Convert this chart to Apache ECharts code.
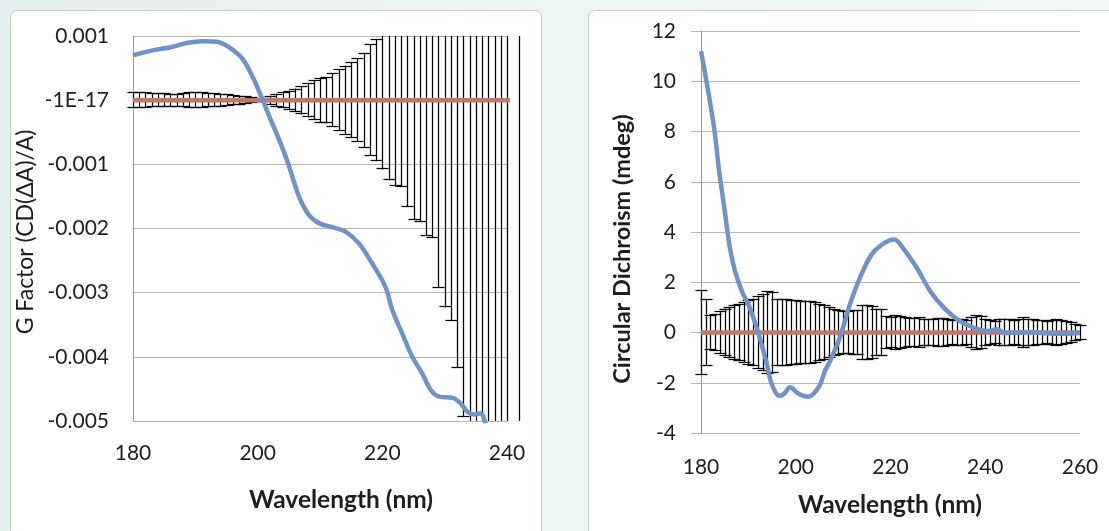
<!DOCTYPE html>
<html>
<head>
<meta charset="utf-8">
<script src="https://cdn.jsdelivr.net/npm/echarts@6/dist/echarts.min.js"></script>
<style>
  html, body { margin: 0; padding: 0; width: 1109px; height: 531px; overflow: hidden; }
  body { background: linear-gradient(90deg, #e4efef 0%, #edf5f5 50%, #f1f7f7 100%); position: relative; }
  .panel { position: absolute; top: 10px; height: 560px; background: #fff;
           border: 1px solid #c6d2bd; border-radius: 7px; box-sizing: border-box; }
  #p1 { left: 10px; width: 532px; }
  #p2 { left: 588px; width: 560px; }
  #chart { position: absolute; left: 0; top: 0; width: 1109px; height: 531px; }
</style>
</head>
<body>
<div class="panel" id="p1"></div>
<div class="panel" id="p2"></div>
<div id="chart"></div>
<script>
// ---- G factor panel (left) ----
const gTickLabels = ['-0.005', '-0.004', '-0.003', '-0.002', '-0.001', '-1E-17', '0.001'];

// sample curve (blue), wavelength / g factor
const gSampleNm = [180, 183.3, 185.9, 188.6, 191.2, 193.4, 195.5, 197.6, 199.2, 200.6, 201.9, 203.5,
  204.9, 206.7, 208.3, 209.9, 212, 214.1, 216.3, 218.4, 220.5, 221.6, 223.2, 224.8, 226.4, 227.8,
  229.1, 231.3, 232.6, 233.7, 234.7, 235.8, 236.5, 237.2];
const gSampleVal = [0.00070, 0.00078, 0.00082, 0.00089, 0.00092, 0.00091, 0.00082, 0.00064, 0.00036,
  0.00005, -0.00026, -0.00063, -0.00099, -0.00152, -0.00180, -0.00192, -0.00198, -0.00205, -0.00224,
  -0.00255, -0.00291, -0.00327, -0.00364, -0.00400, -0.00426, -0.00452, -0.00462, -0.00464, -0.00473,
  -0.00486, -0.00490, -0.00488, -0.00502, -0.00520];

// control (red) with standard deviation bars
const gControlNm = [180, 181, 182, 183, 184, 185, 186, 187, 188, 189, 190, 191, 192, 193, 194, 195, 196,
  197, 198, 199, 200, 201, 202, 203, 204, 205, 206, 207, 208, 209, 210, 211, 212, 213, 214, 215, 216,
  217, 218, 219, 220, 221, 222, 223, 224, 225, 226, 227, 228, 229, 230, 231, 232, 233, 234, 235, 236,
  237, 238, 239, 240, 242];
const gControlVal = [0, 0, 0, 0, 0, 0, 0, 0, 0, 0, 0, 0, 0, 0, 0, 0, 0, 0, 0, 0, 0, 0, 0, 0, 0, 0, 0, 0,
  0, 0, 0, 0, 0, 0, 0, 0, 0, 0, 0, 0, 0, 0, 0, 0, 0, 0, 0, 0, 0, 0, 0, 0, 0, 0, 0, 0, 0, 0, 0, 0, 0, 0];
const gControlErr = [0.00012, 0.00012, 0.00012, 0.00011, 0.00011, 0.00011, 0.00010, 0.00010, 0.00011,
  0.00012, 0.00012, 0.00012, 0.00011, 0.00011, 0.00010, 0.00009, 0.00008, 0.00007, 0.00006, 0.00005,
  0.00003, 0.00003, 0.00007, 0.00010, 0.00012, 0.00015, 0.00018, 0.00022, 0.00027, 0.00031, 0.00035,
  0.00036, 0.00042, 0.00048, 0.00054, 0.00059, 0.00065, 0.00074, 0.00087, 0.00095, 0.00108, 0.00125,
  0.00133, 0.00135, 0.00166, 0.00187, 0.00190, 0.00212, 0.00215, 0.00292, 0.00323, 0.00344, 0.00417,
  0.00493, 0.0054, 0.0058, 0.0061, 0.0065, 0.0068, 0.0072, 0.0076, 0.0083];

// ---- Circular dichroism panel (right) ----
const cdSampleNm = [180, 181.3, 182.8, 183.8, 185, 186.1, 187.2, 188.7, 190.1, 191.6, 193.1, 193.9,
  194.9, 196.6, 197.5, 198.8, 200.5, 202.6, 204.9, 206.2, 207.1, 209.3, 211.6, 213.8, 216, 218.2,
  220.8, 222.6, 225.6, 228.5, 231.5, 234.5, 237.4, 240.4, 242.6, 244.1, 247, 250, 253, 256, 258, 260];
const cdSampleVal = [11.2, 9.85, 8.1, 6.47, 4.85, 3.37, 2.43, 1.61, 1.07, 0.28, -0.68, -1.25,
  -2.04, -2.52, -2.45, -2.18, -2.43, -2.56, -2.16, -1.51, -1.2, -0.2, 1.21, 2.29, 3.1, 3.5,
  3.7, 3.37, 2.56, 1.61, 0.94, 0.47, 0.2, 0.06, 0.13, -0.03, 0.0, 0.02, -0.03, -0.05, -0.04, -0.02];

const cdControlNm = [180, 181, 182, 183, 184, 185, 186, 187, 188, 189, 190, 191, 192, 193, 194, 195,
  196, 197, 198, 199, 200, 201, 202, 203, 204, 205, 206, 207, 208, 209, 210, 211, 212, 213, 214, 215,
  216, 217, 218, 219, 220, 221, 222, 223, 224, 225, 226, 227, 228, 229, 230, 231, 232, 233, 234, 235,
  236, 237, 238, 239, 240, 241, 242, 243, 244, 245, 246, 247, 248, 249, 250, 251, 252, 253, 254, 255,
  256, 257, 258, 259, 260];
const cdControlVal = [0, 0, 0, 0, 0, 0, 0, 0, 0, 0, 0, 0, 0, 0, 0, 0, 0, 0, 0, 0, 0, 0, 0, 0, 0, 0, 0,
  0, 0, 0, 0, 0, 0, 0, 0, 0, 0, 0, 0, 0, 0, 0, 0, 0, 0, 0, 0, 0, 0, 0, 0, 0, 0, 0, 0, 0, 0, 0, 0, 0, 0,
  0, 0, 0, 0, 0, 0, 0, 0, 0, 0, 0, 0, 0, 0, 0, 0, 0, 0, 0, 0];
const cdControlErr = [1.70, 1.34, 0.68, 0.72, 0.85, 0.95, 1.01, 1.08, 1.14, 1.20, 1.30, 1.35, 1.45,
  1.54, 1.65, 1.60, 1.34, 1.34, 1.32, 1.30, 1.28, 1.27, 1.27, 1.25, 1.22, 1.14, 1.10, 1.01, 0.95,
  0.88, 0.85, 0.85, 0.88, 0.90, 1.08, 1.10, 1.05, 0.94, 0.92, 0.65, 0.62, 0.68, 0.64, 0.60, 0.58,
  0.56, 0.60, 0.55, 0.52, 0.55, 0.58, 0.56, 0.52, 0.50, 0.55, 0.52, 0.48, 0.60, 0.68, 0.65, 0.55,
  0.50, 0.45, 0.55, 0.55, 0.52, 0.50, 0.55, 0.60, 0.55, 0.52, 0.50, 0.48, 0.45, 0.50, 0.52, 0.48,
  0.45, 0.40, 0.35, 0.30];

const BLUE = '#6f92c8';
const RED = '#c0786c';
const GRID_COLOR = '#b4b4b4';
const AXIS_COLOR = '#9c9c9c';
const LABEL_COLOR = '#1e1e1e';
const FONT = 'Lato, "Open Sans", sans-serif';

const zip = (xs, ys) => xs.map((x, i) => [x, ys[i]]);
const zip3 = (xs, ys, es) => xs.map((x, i) => [x, ys[i], es[i]]);

// error bar: vertical whisker plus caps, trimmed to the axis range
function errorBars(capHalf, yMin, yMax) {
  return function (params, api) {
    const x = api.value(0), m = api.value(1), e = api.value(2);
    const hi = m + e, lo = m - e;
    const pTop = api.coord([x, Math.min(hi, yMax)]);
    const pBot = api.coord([x, Math.max(lo, yMin)]);
    const px = Math.round(pTop[0]) + 0.5;
    const style = { stroke: '#000', lineWidth: 1.25 };
    const children = [{ type: 'line', shape: { x1: px, y1: pTop[1], x2: px, y2: pBot[1] }, style }];
    if (hi <= yMax) {
      const y = Math.round(pTop[1]) + 0.5;
      children.push({ type: 'line', shape: { x1: px - capHalf, y1: y, x2: px + capHalf, y2: y }, style });
    }
    if (lo >= yMin) {
      const y = Math.round(pBot[1]) - 0.5;
      children.push({ type: 'line', shape: { x1: px - capHalf, y1: y, x2: px + capHalf, y2: y }, style });
    }
    return { type: 'group', children };
  };
}

const chart = echarts.init(document.getElementById('chart'), null, { renderer: 'canvas' });

const labelStyle = { color: LABEL_COLOR, fontFamily: FONT, fontSize: 21 };
const titleStyle = (text, size, weight) => ({
  text, font: weight + ' ' + size + 'px ' + FONT, fill: LABEL_COLOR,
  textAlign: 'center', textVerticalAlign: 'middle', align: 'center', verticalAlign: 'middle'
});

chart.setOption({
  backgroundColor: 'transparent',
  animation: false,
  grid: [
    { left: 133, top: 36, width: 374, height: 385 },
    { left: 701, top: 31, width: 379, height: 402 }
  ],
  xAxis: [
    {
      gridIndex: 0, type: 'value', min: 180, max: 240, interval: 20,
      axisLine: { show: true, lineStyle: { color: AXIS_COLOR, width: 1 } },
      axisTick: { show: false }, splitLine: { show: false },
      axisLabel: Object.assign({ margin: 22 }, labelStyle)
    },
    {
      gridIndex: 1, type: 'value', min: 180, max: 260, interval: 20,
      axisLine: { show: true, lineStyle: { color: AXIS_COLOR, width: 1 } },
      axisTick: { show: false }, splitLine: { show: false },
      axisLabel: Object.assign({ margin: 24 }, labelStyle)
    }
  ],
  yAxis: [
    {
      gridIndex: 0, type: 'value', min: -0.005, max: 0.001, interval: 0.001,
      axisLine: { show: true, lineStyle: { color: AXIS_COLOR, width: 1 } },
      axisTick: { show: false },
      splitLine: { show: true, lineStyle: { color: GRID_COLOR, width: 1 } },
      axisLabel: Object.assign({
        margin: 24,
        formatter: v => gTickLabels[Math.round((v + 0.005) / 0.001)]
      }, labelStyle)
    },
    {
      gridIndex: 1, type: 'value', min: -4, max: 12, interval: 2,
      axisLine: { show: true, lineStyle: { color: AXIS_COLOR, width: 1 } },
      axisTick: { show: true, length: 10, lineStyle: { color: GRID_COLOR, width: 1 } },
      splitLine: { show: true, lineStyle: { color: GRID_COLOR, width: 1 } },
      axisLabel: Object.assign({ margin: 25 }, labelStyle)
    }
  ],
  series: [
    {
      type: 'custom', xAxisIndex: 0, yAxisIndex: 0, z: 3, clip: false,
      renderItem: errorBars(6, -0.005, 0.001),
      encode: { x: 0, y: 1 },
      data: zip3(gControlNm, gControlVal, gControlErr)
    },
    {
      type: 'line', xAxisIndex: 0, yAxisIndex: 0, z: 4, showSymbol: false, clip: true,
      lineStyle: { color: RED, width: 4.5 }, itemStyle: { color: RED },
      data: zip(gControlNm, gControlVal)
    },
    {
      type: 'line', xAxisIndex: 0, yAxisIndex: 0, z: 5, showSymbol: false, clip: true,
      smooth: 0.35,
      lineStyle: { color: BLUE, width: 4.5 }, itemStyle: { color: BLUE },
      data: zip(gSampleNm, gSampleVal)
    },
    {
      type: 'custom', xAxisIndex: 1, yAxisIndex: 1, z: 3, clip: false,
      renderItem: errorBars(6, -4, 12),
      encode: { x: 0, y: 1 },
      data: zip3(cdControlNm, cdControlVal, cdControlErr)
    },
    {
      type: 'line', xAxisIndex: 1, yAxisIndex: 1, z: 4, showSymbol: false,
      lineStyle: { color: RED, width: 4.5 }, itemStyle: { color: RED },
      data: zip(cdControlNm, cdControlVal)
    },
    {
      type: 'line', xAxisIndex: 1, yAxisIndex: 1, z: 5, showSymbol: false,
      smooth: 0.35,
      lineStyle: { color: BLUE, width: 4.5 }, itemStyle: { color: BLUE },
      data: zip(cdSampleNm, cdSampleVal)
    }
  ],
  graphic: [
    { type: 'text', x: 341, y: 500, z: 10, style: titleStyle('Wavelength (nm)', 24.5, 'bold') },
    { type: 'text', x: 890, y: 505, z: 10, style: titleStyle('Wavelength (nm)', 24.5, 'bold') },
    { type: 'text', x: 26, y: 232, rotation: Math.PI / 2, z: 10,
      style: titleStyle('G Factor (CD(ΔA)/A)', 23, 'normal') },
    { type: 'text', x: 622, y: 249, rotation: Math.PI / 2, z: 10,
      style: titleStyle('Circular Dichroism (mdeg)', 23.5, 'bold') }
  ]
});
</script>
</body>
</html>
